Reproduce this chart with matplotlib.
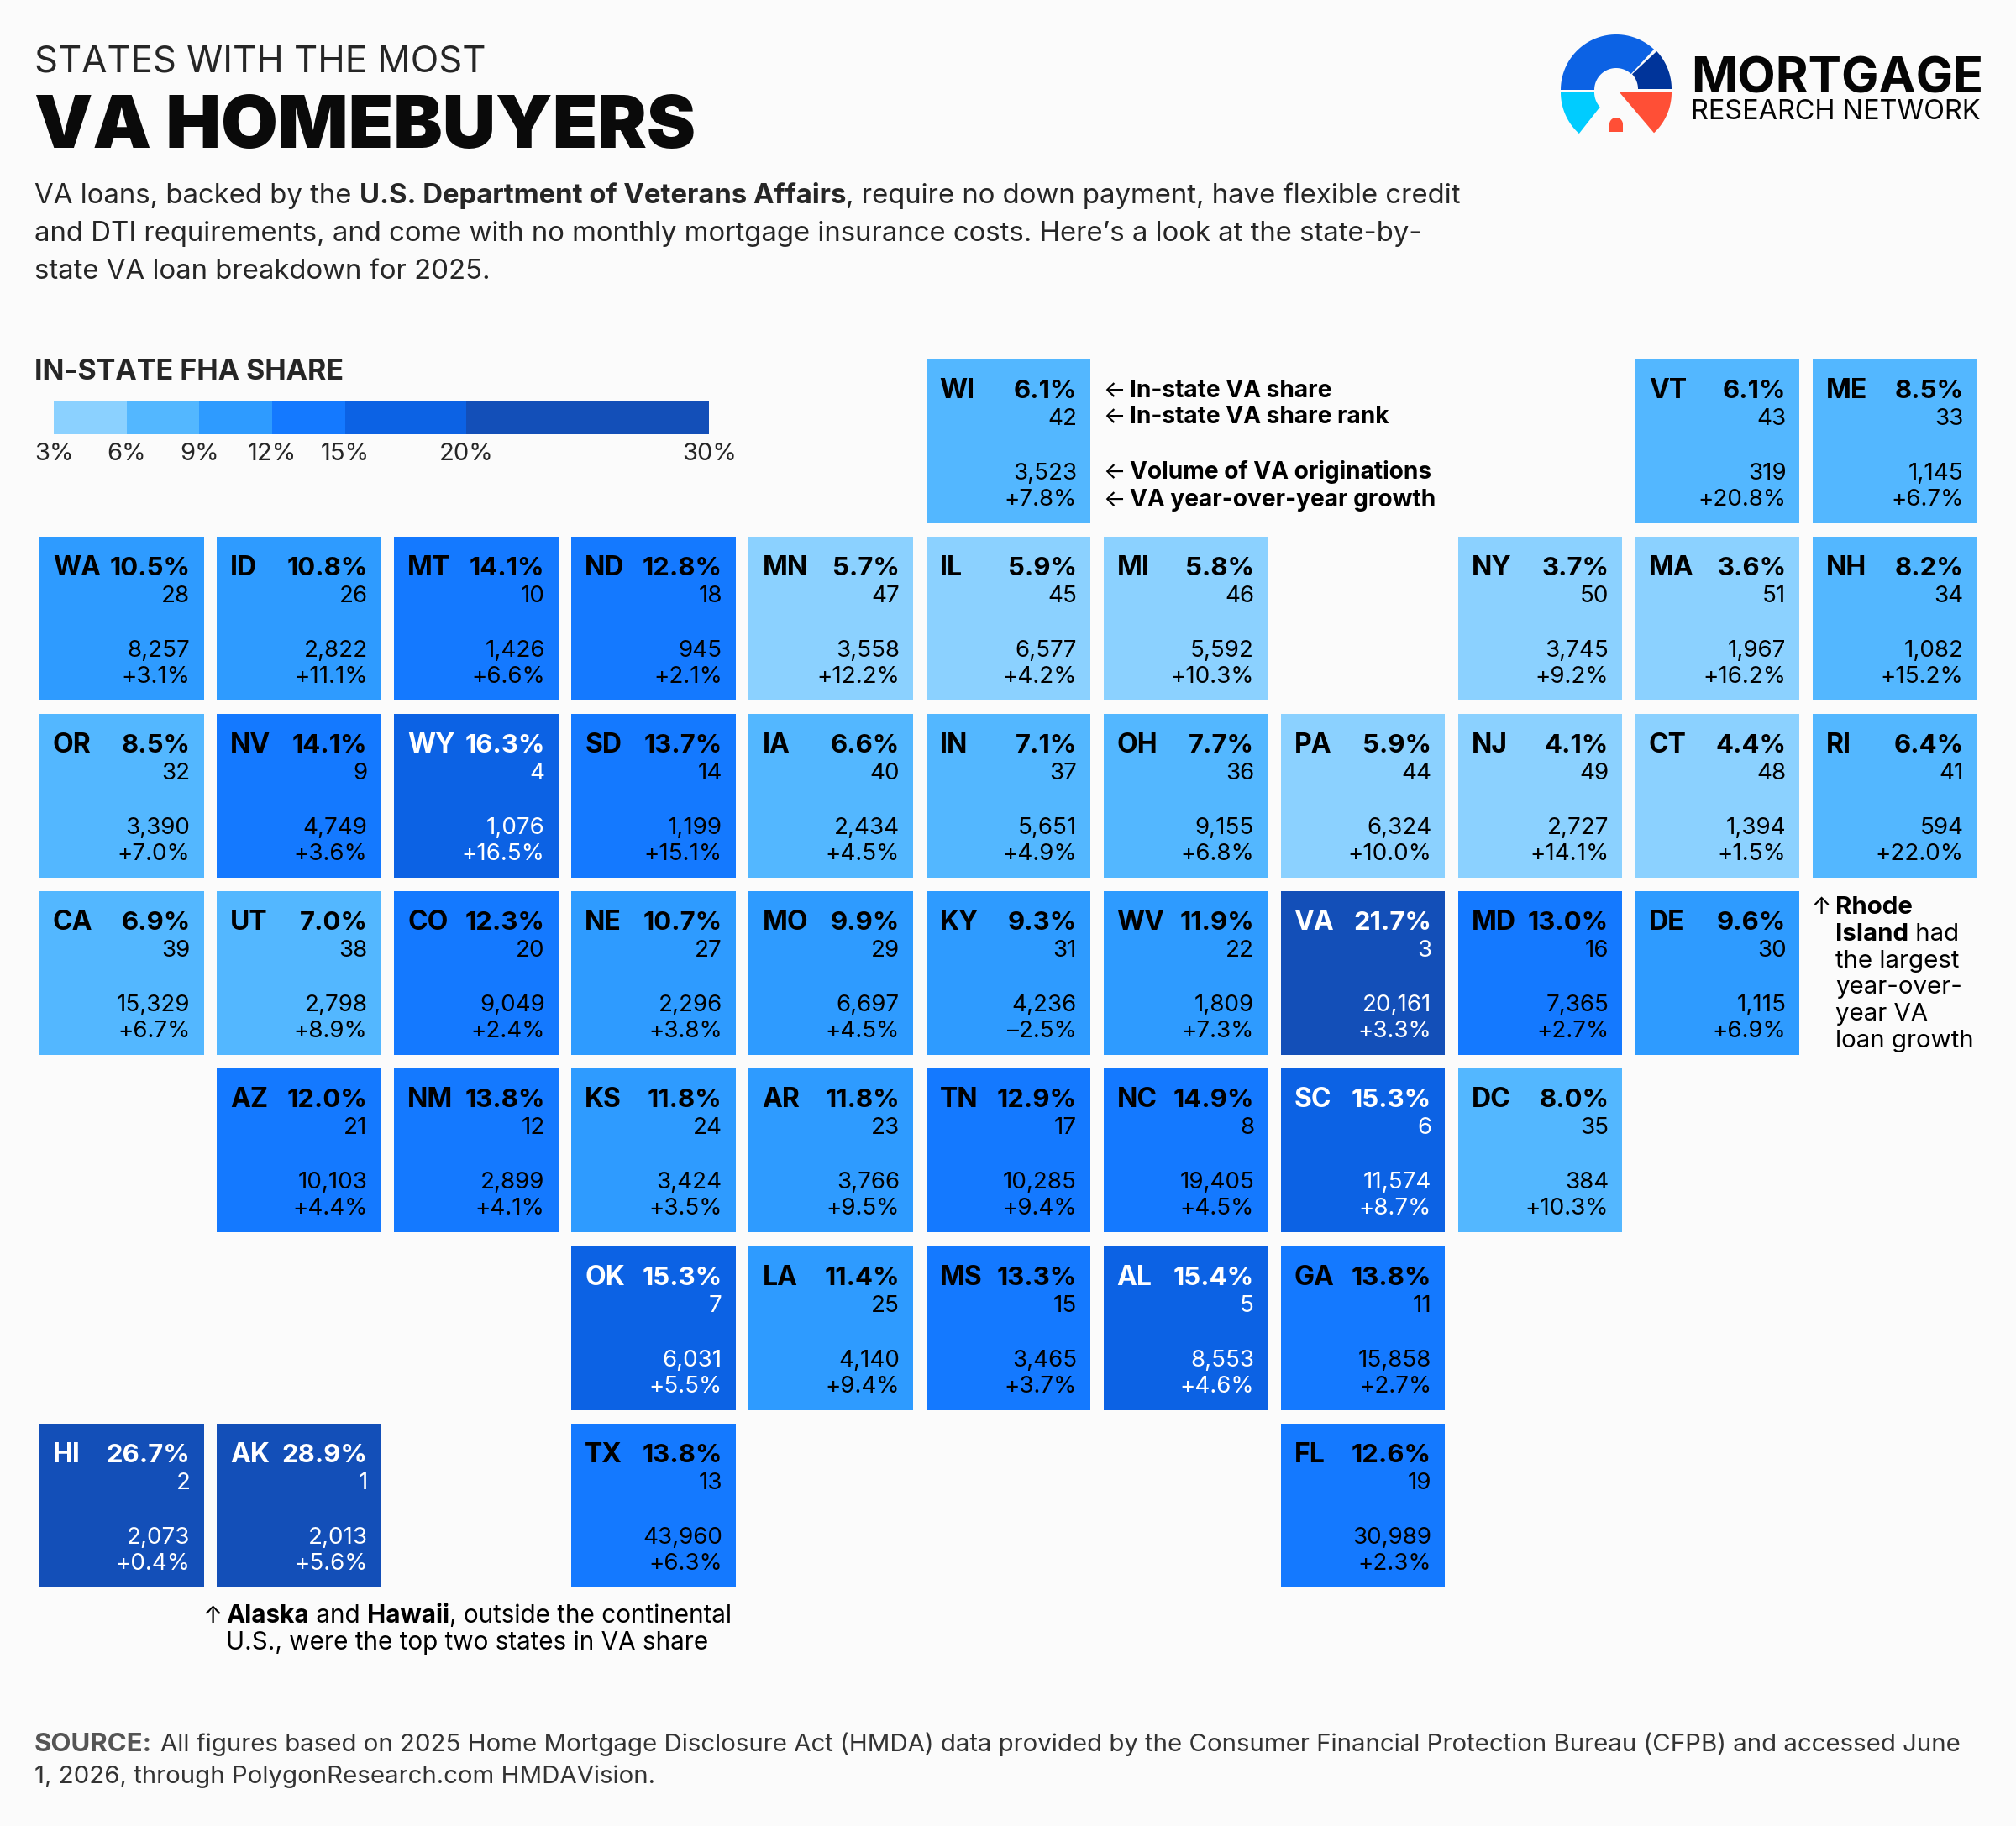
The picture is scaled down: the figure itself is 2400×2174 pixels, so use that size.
import numpy as np
import matplotlib
matplotlib.use("Agg")
import matplotlib.pyplot as plt
from matplotlib.patches import Rectangle, Polygon

FONT = ['Inter', 'DejaVu Sans']
plt.rcParams['font.family'] = FONT

# tile-grid data
states = ["WI","VT","ME",
          "WA","ID","MT","ND","MN","IL","MI","NY","MA","NH",
          "OR","NV","WY","SD","IA","IN","OH","PA","NJ","CT","RI",
          "CA","UT","CO","NE","MO","KY","WV","VA","MD","DE",
          "AZ","NM","KS","AR","TN","NC","SC","DC",
          "OK","LA","MS","AL","GA",
          "HI","AK","TX","FL"]
cols = [5,9,10,
        0,1,2,3,4,5,6,8,9,10,
        0,1,2,3,4,5,6,7,8,9,10,
        0,1,2,3,4,5,6,7,8,9,
        1,2,3,4,5,6,7,8,
        3,4,5,6,7,
        0,1,3,7]
rows = [0]*3 + [1]*10 + [2]*11 + [3]*10 + [4]*8 + [5]*5 + [6]*4
shares = [6.1,6.1,8.5,
          10.5,10.8,14.1,12.8,5.7,5.9,5.8,3.7,3.6,8.2,
          8.5,14.1,16.3,13.7,6.6,7.1,7.7,5.9,4.1,4.4,6.4,
          6.9,7.0,12.3,10.7,9.9,9.3,11.9,21.7,13.0,9.6,
          12.0,13.8,11.8,11.8,12.9,14.9,15.3,8.0,
          15.3,11.4,13.3,15.4,13.8,
          26.7,28.9,13.8,12.6]
ranks = [42,43,33,
         28,26,10,18,47,45,46,50,51,34,
         32,9,4,14,40,37,36,44,49,48,41,
         39,38,20,27,29,31,22,3,16,30,
         21,12,24,23,17,8,6,35,
         7,25,15,5,11,
         2,1,13,19]
volumes = [3523,319,1145,
           8257,2822,1426,945,3558,6577,5592,3745,1967,1082,
           3390,4749,1076,1199,2434,5651,9155,6324,2727,1394,594,
           15329,2798,9049,2296,6697,4236,1809,20161,7365,1115,
           10103,2899,3424,3766,10285,19405,11574,384,
           6031,4140,3465,8553,15858,
           2073,2013,43960,30989]
growths = [7.8,20.8,6.7,
           3.1,11.1,6.6,2.1,12.2,4.2,10.3,9.2,16.2,15.2,
           7.0,3.6,16.5,15.1,4.5,4.9,6.8,10.0,14.1,1.5,22.0,
           6.7,8.9,2.4,3.8,4.5,-2.5,7.3,3.3,2.7,6.9,
           4.4,4.1,3.5,9.5,9.4,4.5,8.7,10.3,
           5.5,9.4,3.7,4.6,2.7,
           0.4,5.6,6.3,2.3]

bin_edges = [3, 6, 9, 12, 15, 20, 30]
bin_colors = ["#8BD1FF", "#53B7FF", "#2E9BFF", "#1479FF", "#0C62E4", "#134FB8"]

INK = "#000000"
TEXT = "#262626"
BG = "#FBFBFB"

fig = plt.figure(figsize=(24, 21.74), dpi=100, facecolor=BG)
ax = fig.add_axes([0, 0, 1, 1])
ax.set_xlim(0, 2400)
ax.set_ylim(2174, 0)
ax.axis("off")
renderer = fig.canvas.get_renderer()


def advance(s, **kw):
    """Advance width of a string in pixels, counting trailing spaces."""
    a = ax.text(0, 0, s + ".", **kw)
    b = ax.text(0, 0, ".", **kw)
    w = a.get_window_extent(renderer).width - b.get_window_extent(renderer).width
    a.remove()
    b.remove()
    return w


def runs(x, y, parts, size, color=TEXT):
    """Draw a line of mixed-weight text; parts are (string, weight) pairs."""
    for s, weight in parts:
        kw = dict(fontsize=size, fontweight=weight)
        ax.text(x, y, s, color=color, va="baseline", ha="left", **kw)
        x += advance(s, **kw)


# heading
ax.text(41, 85, "STATES WITH THE MOST", fontsize=31.5, color=TEXT, va="baseline")
ax.text(41, 176, "VA HOMEBUYERS", fontsize=63, fontweight="black", color="#0A0A0A", va="baseline")
runs(41, 242, [("VA loans, backed by the ", "normal"),
               ("U.S. Department of Veterans Affairs", "bold"),
               (", require no down payment, have flexible credit", "normal")], 23.7)
runs(41, 287, [("and DTI requirements, and come with no monthly mortgage insurance costs. Here\u2019s a look at the state-by-", "normal")], 23.7)
runs(41, 332, [("state VA loan breakdown for 2025.", "normal")], 23.7)

# colour legend
LEG_X0, LEG_PX = 64.0, 28.9
ax.text(41, 452, "IN-STATE FHA SHARE", fontsize=24.5, fontweight="bold", color=TEXT, va="baseline")
for lo, hi, c in zip(bin_edges[:-1], bin_edges[1:], bin_colors):
    ax.add_patch(Rectangle((LEG_X0 + (lo - 3) * LEG_PX, 477), (hi - lo) * LEG_PX, 40, fc=c, ec="none"))
for v in bin_edges:
    ax.text(LEG_X0 + (v - 3) * LEG_PX, 548, f"{v}%", fontsize=21, color=TEXT, ha="center", va="baseline")

# tiles
X0, Y0, PITCH_X, PITCH_Y, SIDE_W, SIDE_H = 47, 428, 211.1, 211.1, 195.5, 195
for st, c, r, sh, rk, vol, g in zip(states, cols, rows, shares, ranks, volumes, growths):
    x, y = X0 + c * PITCH_X, Y0 + r * PITCH_Y
    idx = np.searchsorted(bin_edges, sh, side="right") - 1
    ax.add_patch(Rectangle((x, y), SIDE_W, SIDE_H, fc=bin_colors[idx], ec="none"))
    tc = "white" if sh >= 15 else INK
    right = x + SIDE_W - 16
    ax.text(x + 16, y + 46, st, fontsize=23, fontweight="bold", color=tc, va="baseline")
    ax.text(right, y + 46, f"{sh:.1f}%", fontsize=22.4, fontweight="bold", color=tc, ha="right", va="baseline")
    ax.text(right, y + 78, f"{rk}", fontsize=20, color=tc, ha="right", va="baseline")
    ax.text(right, y + 143, f"{vol:,}", fontsize=20, color=tc, ha="right", va="baseline")
    ax.text(right, y + 174, f"{g:+.1f}%".replace("-", "\u2013"), fontsize=20, color=tc, ha="right", va="baseline")

# key beside the Wisconsin tile
for yb, label in zip([473, 504, 570, 603],
                     ["In-state VA share", "In-state VA share rank",
                      "Volume of VA originations", "VA year-over-year growth"]):
    ax.text(1313, yb, "\u2190", fontsize=20, color=INK, va="baseline")
    ax.text(1345, yb, label, fontsize=20.2, fontweight="bold", color=INK, va="baseline")

# Rhode Island note
ax.text(2156, 1088, "\u2191", fontsize=20, color=INK, va="baseline")
ri_lines = [[("Rhode", "bold")], [("Island", "bold"), (" had", "normal")], [("the largest", "normal")],
            [("year-over-", "normal")], [("year VA", "normal")], [("loan growth", "normal")]]
for i, parts in enumerate(ri_lines):
    runs(2185, 1088 + i * 31.8, parts, 21.2, INK)

# Alaska and Hawaii note
ax.text(241, 1932, "\u2191", fontsize=20, color=INK, va="baseline")
runs(269, 1932, [("Alaska", "bold"), (" and ", "normal"), ("Hawaii", "bold"),
                 (", outside the continental", "normal")], 21.4, INK)
runs(269, 1964, [("U.S., were the top two states in VA share", "normal")], 21.4, INK)

# source line
runs(41, 2085, [("SOURCE:", "bold")], 22.5, "#555555")
runs(191, 2085, [("All figures based on 2025 Home Mortgage Disclosure Act (HMDA) data provided by the Consumer Financial Protection Bureau (CFPB) and accessed June", "normal")], 21.2, "#333333")
runs(41, 2123, [("1, 2026, through PolygonResearch.com HMDAVision.", "normal")], 21.2, "#333333")


# logo mark
def arc(cx, cy, r, a0, a1, n=40):
    t = np.radians(np.linspace(a0, a1, n))
    return np.column_stack([cx + r * np.cos(t), cy - r * np.sin(t)])


LX, LY, RO, RI = 1924, 108, 66, 26
ax.add_patch(Polygon(np.vstack([arc(LX, LY - 1, RO, 180, 47), arc(LX, LY - 1, RI, 47, 180)]), fc="#0C62E4", ec="none"))
ax.add_patch(Polygon(np.vstack([arc(LX, LY - 2, RO, 43, 0), arc(LX, LY - 2, RI, 0, 43)]), fc="#00349A", ec="none"))
ax.add_patch(Polygon(np.vstack([arc(LX, LY + 2, RO, 180, 228), arc(LX, LY + 2, RI, 222, 180)]), fc="#00CCFF", ec="none"))
ax.add_patch(Polygon(np.vstack([[[1928, 110]], arc(LX, LY + 2, RO, 0, -47)]), fc="#FF4F36", ec="none"))
ax.add_patch(Polygon(np.vstack([[[1916, 157]], arc(1924, 148, 8, 180, 0), [[1932, 157]]]), fc="#FF4F36", ec="none"))
ax.text(2013, 110.5, "MORTGAGE", fontsize=42.6, fontweight="bold", color="#050505", va="baseline")
ax.text(2013, 142, "RESEARCH NETWORK", fontsize=23.3, color="#050505", va="baseline")

fig.savefig("out.png", dpi=100, facecolor=BG)
